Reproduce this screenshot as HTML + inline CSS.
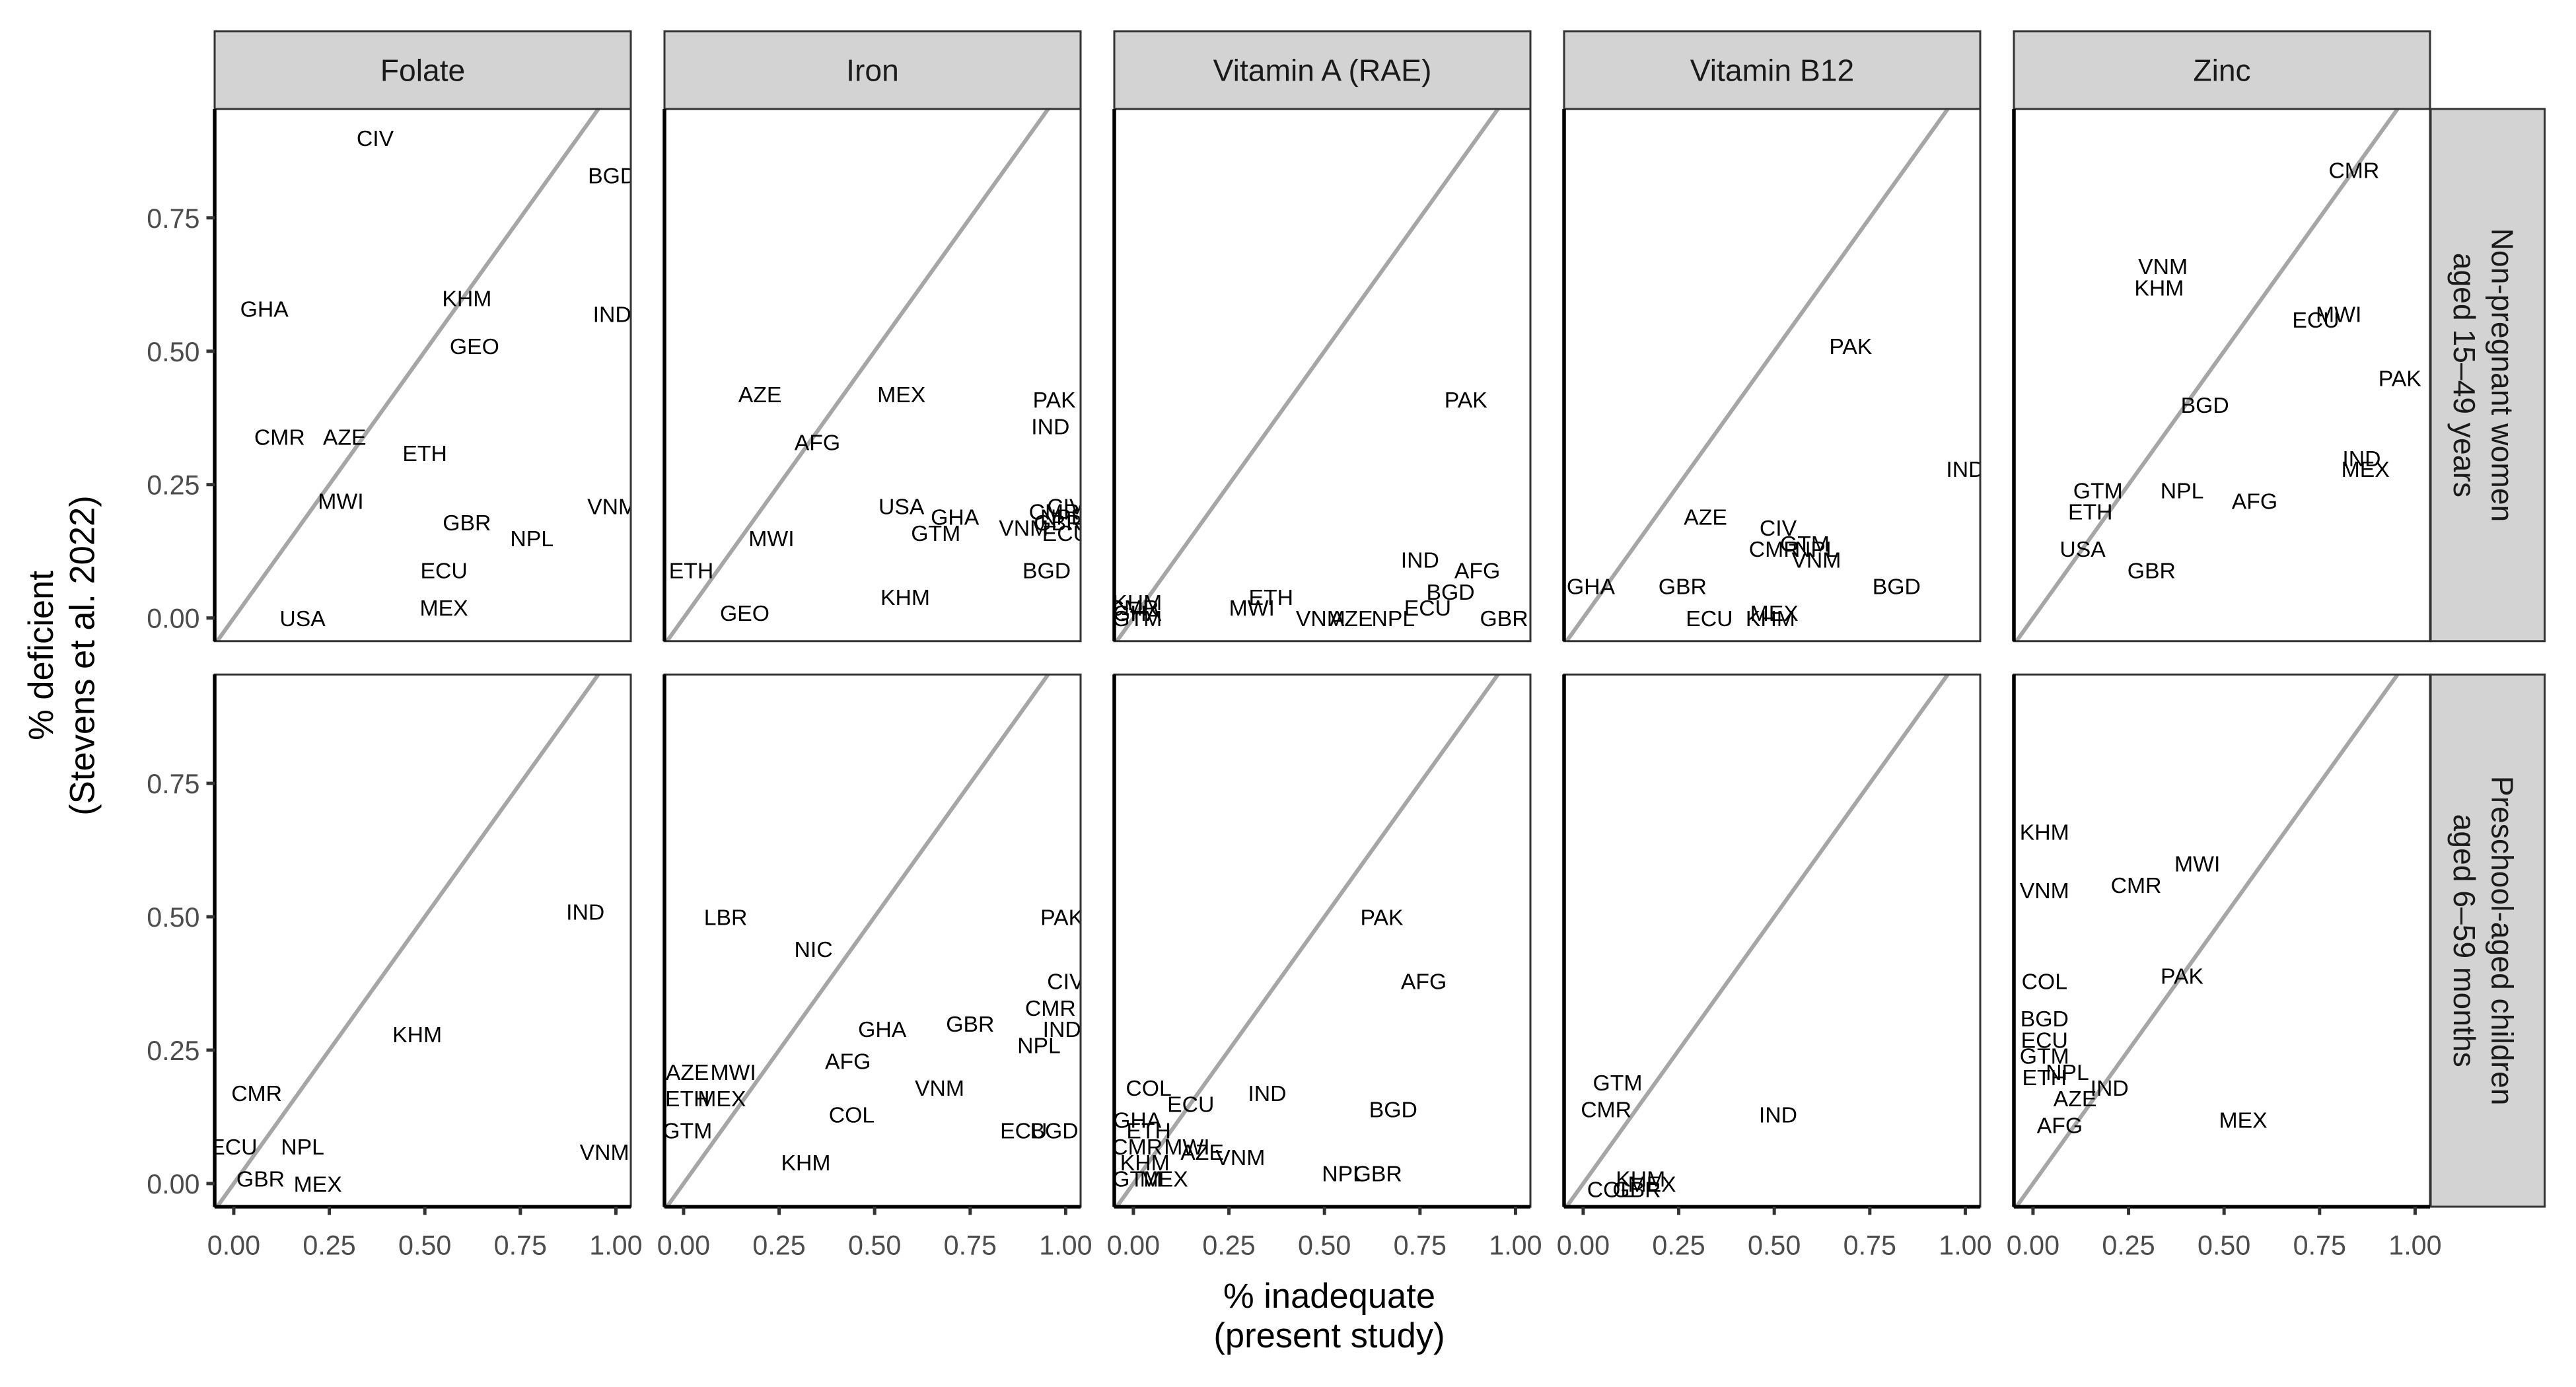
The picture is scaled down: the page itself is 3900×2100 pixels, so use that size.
<!DOCTYPE html>
<html><head><meta charset="utf-8">
<style>
html,body{margin:0;padding:0;background:#fff;}
svg{display:block;}
text{font-family:"Liberation Sans",Arial,sans-serif;}
</style></head>
<body>
<svg id="chart" xmlns="http://www.w3.org/2000/svg" width="3900" height="2100" viewBox="0 0 1560 840">
<rect width="1560" height="840" fill="#fff"/>
<g id="root"></g>
<text transform="translate(32,397) rotate(-90)" text-anchor="middle" font-size="21" fill="#000">% deficient</text>
<text transform="translate(57,397) rotate(-90)" text-anchor="middle" font-size="21" fill="#000">(Stevens et al. 2022)</text>
<text x="805" y="792" text-anchor="middle" font-size="21" fill="#000">% inadequate</text>
<text x="805" y="816" text-anchor="middle" font-size="21" fill="#000">(present study)</text>
</svg>
<script>
const nutrients = ["Folate","Iron","Vitamin A (RAE)","Vitamin B12","Zinc"];
const groups = [["Non-pregnant women","aged 15\u201349 years"],["Preschool-aged children","aged 6\u201359 months"]];
const xTicks = [0,0.25,0.5,0.75,1];
const xTickLabels = ["0.00","0.25","0.50","0.75","1.00"];
const yTicks = [0,0.25,0.5,0.75];
const yTickLabels = ["0.00","0.25","0.50","0.75"];

// Row 1: Non-pregnant women
const folateWCodes = ["CIV","BGD","GHA","KHM","IND","GEO","CMR","AZE","ETH","MWI","VNM","GBR","NPL","ECU","MEX","USA"];
const folateWX = [0.37,0.99,0.08,0.61,0.99,0.63,0.12,0.29,0.50,0.28,0.99,0.61,0.78,0.55,0.55,0.18];
const folateWY = [0.90,0.83,0.58,0.60,0.57,0.51,0.34,0.34,0.31,0.22,0.21,0.18,0.15,0.09,0.02,0.00];

const ironWCodes = ["AZE","MEX","PAK","AFG","IND","USA","GHA","CIV","GTM","VNM","CMR","NPL","GBR","ECU","MWI","ETH","BGD","KHM","GEO"];
const ironWX = [0.20,0.57,0.97,0.35,0.96,0.57,0.71,1.00,0.66,0.89,0.97,0.99,0.98,1.00,0.23,0.02,0.95,0.58,0.16];
const ironWY = [0.42,0.42,0.41,0.33,0.36,0.21,0.19,0.21,0.16,0.17,0.20,0.19,0.18,0.16,0.15,0.09,0.09,0.04,0.01];

const vitaWCodes = ["PAK","IND","AFG","BGD","ECU","NPL","GBR","AZE","VNM","ETH","MWI","KHM","GHA","CMR","GTM"];
const vitaWX = [0.87,0.75,0.90,0.83,0.77,0.68,0.97,0.57,0.49,0.36,0.31,0.01,0.01,0.00,0.01];
const vitaWY = [0.41,0.11,0.09,0.05,0.02,0.00,0.00,0.00,0.00,0.04,0.02,0.03,0.01,0.02,0.00];

const b12WCodes = ["PAK","IND","AZE","CIV","CMR","GTM","NPL","VNM","GHA","GBR","BGD","ECU","MEX","KHM"];
const b12WX = [0.70,1.00,0.32,0.51,0.50,0.58,0.61,0.61,0.02,0.26,0.82,0.33,0.50,0.49];
const b12WY = [0.51,0.28,0.19,0.17,0.13,0.14,0.13,0.11,0.06,0.06,0.06,0.00,0.01,0.00];

const zincWCodes = ["CMR","VNM","KHM","MWI","ECU","PAK","BGD","GTM","NPL","IND","MEX","AFG","ETH","USA","GBR"];
const zincWX = [0.84,0.34,0.33,0.80,0.74,0.96,0.45,0.17,0.39,0.86,0.87,0.58,0.15,0.13,0.31];
const zincWY = [0.84,0.66,0.62,0.57,0.56,0.45,0.40,0.24,0.24,0.30,0.28,0.22,0.20,0.13,0.09];

// Row 2: Preschool-aged children
const folateCCodes = ["IND","KHM","CMR","ECU","NPL","GBR","MEX","VNM"];
const folateCX = [0.92,0.48,0.06,0.00,0.18,0.07,0.22,0.97];
const folateCY = [0.51,0.28,0.17,0.07,0.07,0.01,0.00,0.06];

const ironCCodes = ["LBR","NIC","PAK","CIV","CMR","IND","NPL","GBR","GHA","AFG","VNM","AZE","MWI","ETH","MEX","COL","GTM","ECU","BGD","KHM"];
const ironCX = [0.11,0.34,0.99,1.00,0.96,0.99,0.93,0.75,0.52,0.43,0.67,0.01,0.13,0.01,0.10,0.44,0.01,0.89,0.97,0.32];
const ironCY = [0.50,0.44,0.50,0.38,0.33,0.29,0.26,0.30,0.29,0.23,0.18,0.21,0.21,0.16,0.16,0.13,0.10,0.10,0.10,0.04];

const vitaCCodes = ["PAK","AFG","IND","BGD","COL","ECU","VNM","NPL","GBR","GHA","ETH","MWI","AZE","MEX","CMR","GTM","KHM"];
const vitaCX = [0.65,0.76,0.35,0.68,0.04,0.15,0.28,0.55,0.64,0.01,0.04,0.14,0.18,0.08,0.01,0.01,0.03];
const vitaCY = [0.50,0.38,0.17,0.14,0.18,0.15,0.05,0.02,0.02,0.12,0.10,0.07,0.06,0.01,0.07,0.01,0.04];

const b12CCodes = ["GTM","CMR","IND","KHM","MEX","COL","GBR"];
const b12CX = [0.09,0.06,0.51,0.15,0.18,0.07,0.14];
const b12CY = [0.19,0.14,0.13,0.01,0.00,-0.01,-0.01];

const zincCCodes = ["KHM","VNM","MWI","CMR","PAK","COL","BGD","ECU","GTM","NPL","ETH","IND","AZE","AFG","MEX"];
const zincCX = [0.03,0.03,0.43,0.27,0.39,0.03,0.03,0.03,0.03,0.09,0.03,0.20,0.11,0.07,0.55];
const zincCY = [0.66,0.55,0.60,0.56,0.39,0.38,0.31,0.27,0.24,0.21,0.20,0.18,0.16,0.11,0.12];

const panelData = [
  [[folateWCodes,folateWX,folateWY],[ironWCodes,ironWX,ironWY],[vitaWCodes,vitaWX,vitaWY],[b12WCodes,b12WX,b12WY],[zincWCodes,zincWX,zincWY]],
  [[folateCCodes,folateCX,folateCY],[ironCCodes,ironCX,ironCY],[vitaCCodes,vitaCX,vitaCY],[b12CCodes,b12CX,b12CY],[zincCCodes,zincCX,zincCY]]
];

const NS = "http://www.w3.org/2000/svg";
const root = document.getElementById("root");
const P_LEFT0 = 130, P_PITCH = 272.4, P_W = 252;
const ROW_TOP = [66, 408.5], P_H = 322.3;
const XMIN = -0.05, XMAX = 1.039;
const YMIN = -0.0434, YMAX = 0.954;
function xScale(col, v){ const l = P_LEFT0 + col*P_PITCH; return l + (v - XMIN)/(XMAX - XMIN)*P_W; }
function yScale(row, v){ const t = ROW_TOP[row]; return t + P_H - (v - YMIN)/(YMAX - YMIN)*P_H; }
function mk(tag, attrs, parent){ const e = document.createElementNS(NS, tag); for (const k in attrs) e.setAttribute(k, attrs[k]); (parent||root).appendChild(e); return e; }

const defs = mk("defs", {});
for (let r = 0; r < 2; r++) for (let c = 0; c < 5; c++) {
  const cp = mk("clipPath", {id: "clip" + r + c}, defs);
  mk("rect", {x: P_LEFT0 + c*P_PITCH, y: ROW_TOP[r], width: P_W, height: P_H}, cp);
}

for (let c = 0; c < 5; c++) {
  const l = P_LEFT0 + c*P_PITCH;
  const s = mk("rect", {x: l, y: 19, width: P_W, height: 47, fill: "#d3d3d3", stroke: "#333", "stroke-width": 1.2});
  
  
  const t = mk("text", {x: l + P_W/2, y: 49, "text-anchor": "middle", "font-size": 18.5, fill: "#1a1a1a"});
  t.textContent = nutrients[c];
  
  
}
for (let r = 0; r < 2; r++) {
  const s = mk("rect", {x: 1472, y: ROW_TOP[r], width: 69, height: P_H, fill: "#d3d3d3", stroke: "#333", "stroke-width": 1.2});
  
  
  const cy = ROW_TOP[r] + P_H/2;
  groups[r].forEach((line, i) => {
    const t = mk("text", {transform: "translate(" + (1509 - i*23) + "," + cy + ") rotate(90)", "text-anchor": "middle", "font-size": 18.5, fill: "#1a1a1a"});
    t.textContent = line;
    
    
  });
}

for (let r = 0; r < 2; r++) for (let c = 0; c < 5; c++) {
  const l = P_LEFT0 + c*P_PITCH, t = ROW_TOP[r];
  const g = mk("g", {"clip-path": "url(#clip" + r + c + ")"});
  
  
  mk("rect", {x: l, y: t, width: P_W, height: P_H, fill: "#fff"}, g);
  const ln = mk("line", {x1: xScale(c, -0.1), y1: yScale(r, -0.1), x2: xScale(c, 1.1), y2: yScale(r, 1.1), stroke: "#a6a6a6", "stroke-width": 2.4}, g);
  
  
  const [codes, xs, ys] = panelData[r][c];
  codes.forEach((code, i) => {
    const tx = mk("text", {x: xScale(c, xs[i]), y: yScale(r, ys[i]) + 5, "text-anchor": "middle", "font-size": 13.5, fill: "#000"}, g);
    tx.textContent = code;
    
    
  });
  const br = mk("rect", {x: l, y: t, width: P_W, height: P_H, fill: "none", stroke: "#333", "stroke-width": 1.2});
  
  
  const al = mk("line", {x1: l, y1: t, x2: l, y2: t + P_H, stroke: "#000", "stroke-width": 2.2});
  
  
  if (c === 0) {
    yTicks.forEach((v, i) => {
      const y = yScale(r, v);
      const tk = mk("line", {x1: l - 5, y1: y, x2: l, y2: y, stroke: "#333", "stroke-width": 2});
      
      
      const lb = mk("text", {x: l - 9, y: y + 6, "text-anchor": "end", "font-size": 16.5, fill: "#4d4d4d"});
      lb.textContent = yTickLabels[i];
      
      
    });
  }
  if (r === 1) {
    const xl = mk("line", {x1: l, y1: t + P_H, x2: l + P_W, y2: t + P_H, stroke: "#000", "stroke-width": 2.2});
    
    
    xTicks.forEach((v, i) => {
      const x = xScale(c, v);
      const tk = mk("line", {x1: x, y1: t + P_H, x2: x, y2: t + P_H + 5, stroke: "#333", "stroke-width": 2});
      
      
      const lb = mk("text", {x: x, y: t + P_H + 29, "text-anchor": "middle", "font-size": 16.5, fill: "#4d4d4d"});
      lb.textContent = xTickLabels[i];
      
      
    });
  }
}
</script>
</body></html>
